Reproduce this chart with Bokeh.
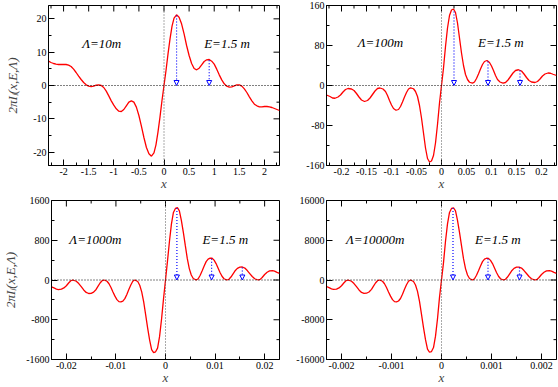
import math
from bokeh.plotting import figure
from bokeh.models import (ColumnDataSource, Range1d, FixedTicker, Span, Arrow,
                          NormalHead, Label)
from bokeh.layouts import column, row
from bokeh.embed import file_html
from bokeh.resources import INLINE

# ---------------- data ----------------
# Panel 1 : Lambda = 10 m
x1 = [-2.30, -2.25, -2.20, -2.15, -2.10, -2.05, -2.00, -1.95, -1.90, -1.85, -1.80, -1.75,
      -1.70, -1.65, -1.60, -1.55, -1.50, -1.45, -1.40, -1.35, -1.30, -1.25, -1.20, -1.15,
      -1.10, -1.05, -1.00, -0.95, -0.90, -0.85, -0.80, -0.75, -0.70, -0.65, -0.60, -0.55,
      -0.50, -0.45, -0.40, -0.35, -0.30, -0.25, -0.20, -0.16, -0.12, -0.08, -0.04, 0.0,
      0.04, 0.08, 0.12, 0.16, 0.20, 0.25, 0.30, 0.35, 0.40, 0.45, 0.50, 0.55, 0.60, 0.65,
      0.70, 0.75, 0.80, 0.85, 0.90, 0.95, 1.00, 1.05, 1.10, 1.15, 1.20, 1.25, 1.30, 1.35,
      1.40, 1.45, 1.50, 1.55, 1.60, 1.65, 1.70, 1.75, 1.80, 1.85, 1.90, 1.95, 2.00, 2.05,
      2.10, 2.15, 2.20, 2.25, 2.30]
y1 = [7.3, 6.9, 6.6, 6.4, 6.3, 6.3, 6.3, 6.3, 6.1, 5.7, 4.9, 3.9,
      2.8, 1.8, 0.9, 0.2, -0.2, -0.3, -0.2, 0.1, 0.2, 0.0, -0.6, -1.7,
      -3.1, -4.6, -5.9, -7.0, -7.7, -7.8, -7.2, -6.1, -5.0, -4.6, -5.0, -6.5,
      -9.0, -12.2, -15.6, -18.6, -20.5, -21.2, -20.2, -17.8, -14.0, -9.5, -4.5, 0.0,
      4.5, 9.5, 14.0, 17.8, 20.2, 21.2, 20.5, 18.5, 15.5, 12.0, 9.0, 6.6, 5.1, 4.7,
      5.2, 6.2, 7.2, 7.7, 7.8, 7.3, 6.4, 4.9, 3.2, 1.7, 0.5, -0.2, -0.5, -0.4,
      -0.1, 0.2, 0.2, -0.2, -1.0, -2.1, -3.4, -4.6, -5.6, -6.1, -6.4, -6.4, -6.3, -6.3,
      -6.4, -6.6, -6.9, -7.2, -7.5]

# Panel 2 : Lambda = 100 m
x2 = [-0.230, -0.223, -0.218, -0.213, -0.207, -0.202, -0.197, -0.192, -0.187, -0.180,
      -0.175, -0.170, -0.165, -0.160, -0.154, -0.148, -0.143, -0.138, -0.133, -0.128,
      -0.123, -0.117, -0.112, -0.108, -0.104, -0.100, -0.096, -0.091, -0.086, -0.082,
      -0.078, -0.074, -0.070, -0.066, -0.062, -0.056, -0.052, -0.048, -0.044, -0.040,
      -0.036, -0.032, -0.028, -0.024, -0.020, -0.016, -0.012, -0.008, -0.004, 0.0,
      0.004, 0.008, 0.012, 0.016, 0.020, 0.024, 0.028, 0.032, 0.036, 0.040, 0.044,
      0.048, 0.052, 0.056, 0.062, 0.066, 0.070, 0.074, 0.078, 0.082, 0.086, 0.091,
      0.096, 0.100, 0.104, 0.108, 0.112, 0.117, 0.123, 0.128, 0.133, 0.138, 0.143,
      0.148, 0.154, 0.160, 0.165, 0.170, 0.175, 0.180, 0.187, 0.192, 0.197, 0.202,
      0.207, 0.213, 0.218, 0.223, 0.230]
y2 = [-19, -22, -25, -25.5, -23, -19, -13, -8, -6, -7,
      -10, -16, -23, -29, -32, -30, -25, -18, -11, -6,
      -5, -7, -12, -20, -30, -39, -46, -49.5, -48, -42,
      -33, -23, -14, -7, -4.7, -6.5, -12, -22, -40, -65,
      -95, -125, -146, -153, -151, -140, -115, -78, -35, 0,
      35, 78, 115, 140, 151, 153, 146, 125, 95, 65, 40,
      22, 12, 6.5, 4.7, 7, 14, 23, 33, 42, 48, 50,
      46, 39, 30, 20, 12, 7, 4.7, 6, 11, 18, 25,
      30, 31.5, 29, 23, 16, 10, 7, 6, 8, 13, 19,
      23, 25, 24.5, 22.5, 20]

# Panel 3 : Lambda = 1000 m
x3 = [-0.0230, -0.0225, -0.0220, -0.0216, -0.0210, -0.0205, -0.0200, -0.0195, -0.0191,
      -0.0187, -0.0180, -0.0175, -0.0170, -0.0165, -0.0160, -0.0155, -0.0150, -0.0145,
      -0.0140, -0.0136, -0.0132, -0.0128, -0.0124, -0.0118, -0.0114, -0.0110, -0.0106,
      -0.0102, -0.0098, -0.0094, -0.0090, -0.0086, -0.0082, -0.0078, -0.0074, -0.0070,
      -0.0066, -0.0062, -0.0056, -0.0052, -0.0048, -0.0044, -0.0040, -0.0036, -0.0032,
      -0.0028, -0.0024, -0.0020, -0.0016, -0.0012, -0.0008, -0.0004, 0.0,
      0.0004, 0.0008, 0.0012, 0.0016, 0.0020, 0.0024, 0.0028, 0.0032, 0.0036, 0.0040,
      0.0044, 0.0048, 0.0052, 0.0056, 0.0062, 0.0066, 0.0070, 0.0074, 0.0078, 0.0082,
      0.0086, 0.0090, 0.0094, 0.0098, 0.0102, 0.0106, 0.0110, 0.0114, 0.0118, 0.0124,
      0.0128, 0.0132, 0.0136, 0.0140, 0.0145, 0.0150, 0.0155, 0.0160, 0.0165, 0.0170,
      0.0175, 0.0180, 0.0187, 0.0191, 0.0195, 0.0200, 0.0205, 0.0210, 0.0216, 0.0220,
      0.0225, 0.0230]
y3 = [-140, -160, -182, -192, -185, -160, -115, -55, -15,
      0, -25, -72, -135, -200, -250, -272, -268, -245,
      -190, -125, -60, -15, 0, -25, -75, -150, -240,
      -325, -395, -435, -442, -425, -375, -290, -190, -100,
      -25, 0, -30, -105, -240, -440, -700, -970, -1210,
      -1400, -1460, -1445, -1370, -1140, -790, -380, 0,
      380, 780, 1130, 1360, 1440, 1455, 1390, 1200, 960, 690,
      430, 230, 100, 30, 0, 25, 95, 185, 280, 370,
      420, 440, 438, 400, 330, 240, 150, 75, 25, 0,
      15, 60, 120, 180, 235, 258, 262, 240, 190, 130,
      70, 25, 0, 12, 50, 110, 155, 183, 190, 180,
      155, 135]

# Panel 4 : Lambda = 10000 m
x4 = [-0.00230, -0.00225, -0.00220, -0.00216, -0.00210, -0.00205, -0.00200, -0.00195,
      -0.00191, -0.00187, -0.00180, -0.00175, -0.00170, -0.00165, -0.00160, -0.00155,
      -0.00150, -0.00145, -0.00140, -0.00136, -0.00132, -0.00128, -0.00124, -0.00118,
      -0.00114, -0.00110, -0.00106, -0.00102, -0.00098, -0.00094, -0.00090, -0.00086,
      -0.00082, -0.00078, -0.00074, -0.00070, -0.00066, -0.00062, -0.00056, -0.00052,
      -0.00048, -0.00044, -0.00040, -0.00036, -0.00032, -0.00028, -0.00024, -0.00020,
      -0.00016, -0.00012, -0.00008, -0.00004, 0.0,
      0.00004, 0.00008, 0.00012, 0.00016, 0.00020, 0.00024, 0.00028, 0.00032, 0.00036,
      0.00040, 0.00044, 0.00048, 0.00052, 0.00056, 0.00062, 0.00066, 0.00070, 0.00074,
      0.00078, 0.00082, 0.00086, 0.00090, 0.00094, 0.00098, 0.00102, 0.00106, 0.00110,
      0.00114, 0.00118, 0.00124, 0.00128, 0.00132, 0.00136, 0.00140, 0.00145, 0.00150,
      0.00155, 0.00160, 0.00165, 0.00170, 0.00175, 0.00180, 0.00187, 0.00191, 0.00195,
      0.00200, 0.00205, 0.00210, 0.00216, 0.00220, 0.00225, 0.00230]
y4 = [-1300, -1550, -1800, -1900, -1850, -1600, -1150, -550,
      -150, 0, -250, -720, -1350, -2000, -2500, -2700,
      -2660, -2420, -1880, -1240, -600, -150, 0, -250,
      -750, -1500, -2400, -3250, -3950, -4350, -4400, -4230,
      -3720, -2850, -1880, -960, -250, 0, -300, -1000,
      -2300, -4300, -6900, -9600, -12000, -13900, -14540, -14400,
      -13600, -11300, -7800, -3500, 0,
      3500, 7800, 11300, 13600, 14400, 14540, 13900, 12000, 9600,
      6900, 4300, 2300, 1000, 300, 0, 250, 950, 1850,
      2800, 3700, 4200, 4380, 4350, 3950, 3300, 2400, 1500,
      750, 250, 0, 150, 600, 1200, 1800, 2350, 2580,
      2600, 2400, 1900, 1300, 700, 250, 0, 120, 500,
      1100, 1550, 1830, 1900, 1800, 1550, 1350]

# arrow positions (x) and their start heights (peaks)
arrow_x1 = [0.25, 0.9]
arrow_y1 = [21.0, 7.6]
arrow_x2 = [0.025, 0.093, 0.157]
arrow_y2 = [148.0, 48.0, 30.0]
arrow_x3 = [0.0023, 0.0093, 0.0155]
arrow_y3 = [1450.0, 430.0, 250.0]
arrow_x4 = [0.00023, 0.00093, 0.00156]
arrow_y4 = [14500.0, 4300.0, 2500.0]

# ticks and tick labels
xt1 = [-2, -1.5, -1, -0.5, 0, 0.5, 1, 1.5, 2]
xl1 = ["-2", "-1.5", "-1", "-0.5", "0", "0.5", "1", "1.5", "2"]
xm1 = [-2.25, -1.75, -1.25, -0.75, -0.25, 0.25, 0.75, 1.25, 1.75, 2.25]
yt1 = [-20, -10, 0, 10, 20]
yl1 = ["-20", "-10", "0", "10", "20"]
ym1 = [-15, -5, 5, 15]

xt2 = [-0.2, -0.15, -0.1, -0.05, 0, 0.05, 0.1, 0.15, 0.2]
xl2 = ["-0.2", "-0.15", "-0.1", "-0.05", "0", "0.05", "0.1", "0.15", "0.2"]
xm2 = [-0.225, -0.175, -0.125, -0.075, -0.025, 0.025, 0.075, 0.125, 0.175, 0.225]
yt2 = [-160, -80, 0, 80, 160]
yl2 = ["-160", "-80", "0", "80", "160"]
ym2 = [-120, -40, 40, 120]

xt3 = [-0.02, -0.01, 0, 0.01, 0.02]
xl3 = ["-0.02", "-0.01", "0", "0.01", "0.02"]
xm3 = [-0.015, -0.005, 0.005, 0.015]
yt3 = [-1600, -800, 0, 800, 1600]
yl3 = ["-1600", "-800", "0", "800", "1600"]
ym3 = [-1200, -400, 400, 1200]

xt4 = [-0.002, -0.001, 0, 0.001, 0.002]
xl4 = ["-0.002", "-0.001", "0", "0.001", "0.002"]
xm4 = [-0.0015, -0.0005, 0.0005, 0.0015]
yt4 = [-16000, -8000, 0, 8000, 16000]
yl4 = ["-16000", "-8000", "0", "8000", "16000"]
ym4 = [-12000, -4000, 4000, 12000]

lam_texts = ["Λ=10m", "Λ=100m", "Λ=1000m", "Λ=10000m"]
e_text = "E=1.5 m"
x_title = "x"
y_title = "2πIₗ(x,E,Λ)"

SERIF = "Liberation Serif"


def style_axis(ax, ticker, overrides):
    ax.ticker = ticker
    ax.major_tick_in = 6
    ax.major_tick_out = 0
    ax.minor_tick_in = 3
    ax.minor_tick_out = 0
    ax.axis_line_color = "black"
    ax.major_tick_line_color = "black"
    ax.minor_tick_line_color = "black"
    ax.major_label_overrides = overrides
    ax.major_label_text_font = SERIF
    ax.major_label_text_font_size = "10px"
    ax.major_label_text_color = "black"
    ax.major_label_standoff = 2


def mirror_ticks(p, xr, yr, xt, xm, yt, ym):
    # ticks on the top and right edges of the frame, pointing inwards
    inner_xt = [v for v in xt if abs(v) < xr]
    inner_xm = [v for v in xm if abs(v) < xr]
    inner_yt = [v for v in yt if abs(v) < yr]
    inner_ym = [v for v in ym if abs(v) < yr]
    p.ray(x=inner_xt, y=[yr] * len(inner_xt), length=6, angle=-math.pi / 2,
          length_units="screen", line_color="black", line_width=1)
    p.ray(x=inner_xm, y=[yr] * len(inner_xm), length=3, angle=-math.pi / 2,
          length_units="screen", line_color="black", line_width=1)
    p.ray(x=[xr] * len(inner_yt), y=inner_yt, length=6, angle=math.pi,
          length_units="screen", line_color="black", line_width=1)
    p.ray(x=[xr] * len(inner_ym), y=inner_ym, length=3, angle=math.pi,
          length_units="screen", line_color="black", line_width=1)


def make_panel(xs, ys, xr, yr, xt, xl, xm, yt, yl, ym, ax_x, ax_y,
               lam, lam_pos, e_pos, width, height, borders, ylabel_standoff):
    bl, br, bt, bb = borders
    p = figure(width=width, height=height, x_range=Range1d(-xr, xr),
               y_range=Range1d(-yr, yr), output_backend="svg",
               toolbar_location=None, min_border_left=bl, min_border_right=br,
               min_border_top=bt, min_border_bottom=bb)
    p.xgrid.visible = False
    p.ygrid.visible = False
    p.outline_line_color = "black"
    p.outline_line_width = 1
    p.background_fill_color = "white"
    p.border_fill_color = "white"

    style_axis(p.xaxis[0], FixedTicker(ticks=xt, minor_ticks=xm), dict(zip(xt, xl)))
    style_axis(p.yaxis[0], FixedTicker(ticks=yt, minor_ticks=ym), dict(zip(yt, yl)))
    p.xaxis[0].axis_label = x_title
    p.xaxis[0].axis_label_text_font = SERIF
    p.xaxis[0].axis_label_text_font_style = "italic"
    p.xaxis[0].axis_label_text_font_size = "13px"
    p.xaxis[0].axis_label_standoff = -2
    if ylabel_standoff is not None:
        p.yaxis[0].axis_label = y_title
        p.yaxis[0].axis_label_text_font = SERIF
        p.yaxis[0].axis_label_text_font_style = "italic"
        p.yaxis[0].axis_label_text_font_size = "13px"
        p.yaxis[0].axis_label_standoff = ylabel_standoff

    mirror_ticks(p, xr, yr, xt, xm, yt, ym)

    p.add_layout(Span(location=0, dimension="width", line_color="black",
                      line_dash="1 2", line_width=1))
    p.add_layout(Span(location=0, dimension="height", line_color="#555555",
                      line_dash="1 2", line_width=1))

    p.line(xs, ys, line_color="red", line_width=1.3)

    src = ColumnDataSource(dict(x=ax_x, y=ax_y))
    p.add_layout(Arrow(source=src, x_start="x", y_start="y", x_end="x", y_end=0,
                       line_color="blue", line_dash="1 2", line_width=1.2,
                       end=NormalHead(size=5, fill_color=None, line_color="blue",
                                      line_width=1)))

    for txt, (tx, ty) in ((lam, lam_pos), (e_text, e_pos)):
        p.add_layout(Label(x=tx, y=ty, text=txt, text_font=SERIF,
                           text_font_style="italic", text_font_size="13px",
                           text_baseline="middle", text_align="left",
                           text_color="black"))
    return p


p1 = make_panel(x1, y1, 2.3, 24, xt1, xl1, xm1, yt1, yl1, ym1, arrow_x1, arrow_y1,
                lam_texts[0], (-1.63, 12.7), (0.80, 12.7), 290, 193, (48, 11, 5, 26), 10)
p2 = make_panel(x2, y2, 0.23, 160, xt2, xl2, xm2, yt2, yl2, ym2, arrow_x2, arrow_y2,
                lam_texts[1], (-0.1675, 86), (0.073, 86), 268, 193, (36, 2, 5, 26), None)
p3 = make_panel(x3, y3, 0.023, 1600, xt3, xl3, xm3, yt3, yl3, ym3, arrow_x3, arrow_y3,
                lam_texts[2], (-0.0194, 816), (0.00745, 816), 290, 194, (48, 11, 7, 24), 5)
p4 = make_panel(x4, y4, 0.0023, 16000, xt4, xl4, xm4, yt4, yl4, ym4, arrow_x4, arrow_y4,
                lam_texts[3], (-0.00191, 8160), (0.00067, 8160), 268, 194, (36, 2, 7, 24), None)

layout = column(row(p1, p2), row(p3, p4))
open("out.html", "w").write(file_html(layout, INLINE))
